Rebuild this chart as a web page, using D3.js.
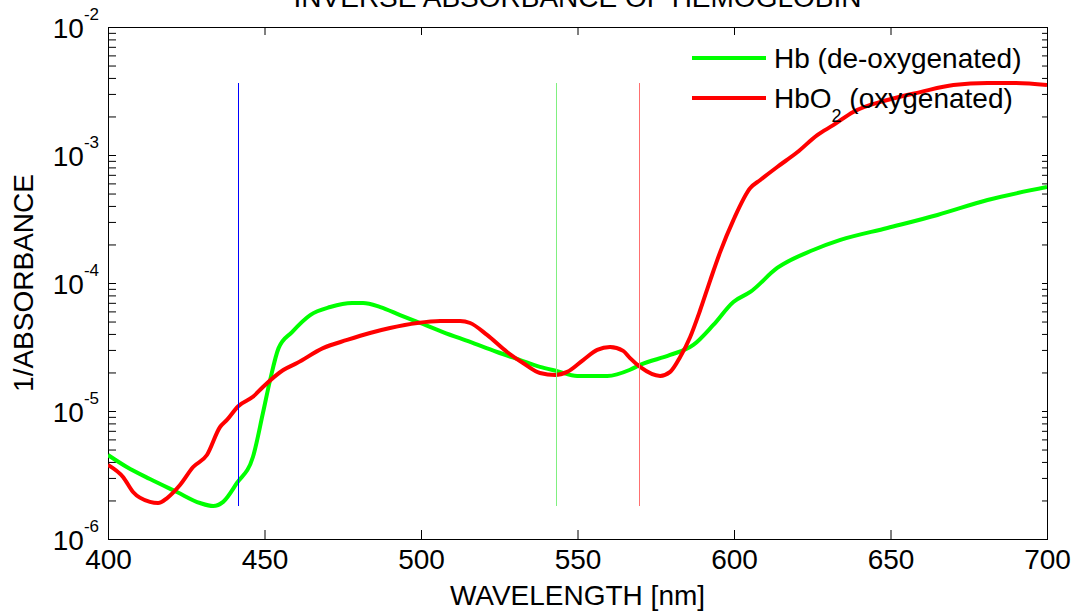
<!DOCTYPE html>
<html>
<head>
<meta charset="utf-8">
<script src="https://cdn.jsdelivr.net/npm/d3@7"></script>
<style>
  body { margin: 0; background: #fff; }
  svg { display: block; font-family: "Liberation Sans", Arial, sans-serif; }
  .axis path.domain { display: none; }
  .axis line { stroke: #000; stroke-width: 1; }
  .axis text { font-size: 28px; fill: #000; font-family: "Liberation Sans", Arial, sans-serif; }
</style>
</head>
<body>
<svg id="chart" width="1075" height="613"></svg>
<script>
// Hb (de-oxygenated) curve
const hbWavelength = [400, 406, 413.4, 422, 429.4, 433.6, 436.8, 441.2, 446.3, 449.5, 451.8, 454.5,
  458.8, 464.6, 471, 478, 481.5, 487, 493.3, 499.7, 507, 515.7, 524.3, 531.7, 538, 543.5, 549.9,
  559.5, 566.8, 570, 579.6, 587, 593.4, 599.8, 605.2, 613.8, 625.3, 634, 649, 665, 681, 700];
const hbValues = [4.53e-6, 3.65e-6, 2.94e-6, 2.33e-6, 1.91e-6, 1.81e-6, 1.95e-6, 2.74e-6, 4.37e-6,
  9.64e-6, 1.75e-5, 3.10e-5, 4.14e-5, 5.62e-5, 6.49e-5, 6.98e-5, 6.98e-5, 6.49e-5, 5.62e-5, 4.87e-5,
  4.14e-5, 3.46e-5, 2.89e-5, 2.50e-5, 2.21e-5, 2.05e-5, 1.88e-5, 1.88e-5, 2.10e-5, 2.29e-5, 2.74e-5,
  3.28e-5, 4.70e-5, 7.11e-5, 8.51e-5, 1.31e-4, 1.81e-4, 2.17e-4, 2.69e-4, 3.40e-4, 4.45e-4, 5.62e-4];

// HbO2 (oxygenated) curve
const hbo2Wavelength = [400, 404.8, 408, 413.4, 416, 418.9, 423, 427.2, 431.6, 435.8, 438, 441.6,
  446.3, 449.5, 456, 460.4, 468.7, 476.4, 483.7, 490.1, 498.8, 506.1, 512.5, 515.7, 521.1, 527.5,
  532.6, 538, 542.9, 546.7, 551.8, 556.3, 560.4, 564.6, 566.8, 570, 576.4, 579.6, 582.8, 586, 589.2,
  592.4, 595.6, 599.8, 605.2, 608.4, 613.8, 620.2, 626.6, 631.7, 638.1, 649, 659.5, 670.1, 681,
  689.3, 700];
const hbo2Values = [3.79e-6, 3.05e-6, 2.33e-6, 1.95e-6, 1.91e-6, 2.09e-6, 2.64e-6, 3.65e-6, 4.53e-6,
  7.50e-6, 8.51e-6, 1.09e-5, 1.29e-5, 1.54e-5, 2.09e-5, 2.37e-5, 3.10e-5, 3.59e-5, 4.07e-5, 4.45e-5,
  4.87e-5, 5.05e-5, 5.05e-5, 4.87e-5, 3.93e-5, 2.89e-5, 2.37e-5, 1.98e-5, 1.91e-5, 2.02e-5, 2.50e-5,
  3.00e-5, 3.16e-5, 2.95e-5, 2.59e-5, 2.21e-5, 1.88e-5, 2.02e-5, 2.64e-5, 3.79e-5, 6.15e-5, 1.05e-4,
  1.75e-4, 3.10e-4, 5.52e-4, 6.38e-4, 8.06e-4, 1.05e-3, 1.43e-3, 1.71e-3, 2.17e-3, 2.69e-3, 3.10e-3,
  3.52e-3, 3.65e-3, 3.65e-3, 3.52e-3];

// marker lines (nm) and their colours
const markerWavelengths = [441.6, 543.2, 569.7];
const markerColors = ['#0000ff', '#80f080', '#ff7070'];

const xTicks = [400, 450, 500, 550, 600, 650, 700];
const yDecades = [-6, -5, -4, -3, -2];

const seriesNames = ['Hb (de-oxygenated)', 'HbO2 (oxygenated)'];
const seriesColors = ['#00ff00', '#ff0000'];

const PLOT = { left: 108, right: 1047, top: 27, bottom: 539 };

const svg = d3.select('#chart');

const x = d3.scaleLinear().domain([400, 700]).range([PLOT.left, PLOT.right]);
const y = d3.scaleLog().domain([1e-6, 1e-2]).range([PLOT.bottom, PLOT.top]);

// tick values for the log axis: decades and the 2..9 minors
const majorY = yDecades.map(e => Math.pow(10, e));
const minorY = [];
for (const e of yDecades.slice(0, -1)) {
  for (let k = 2; k <= 9; k++) minorY.push(k * Math.pow(10, e));
}
const allY = majorY.concat(minorY);

// clip for the curves
svg.append('defs').append('clipPath').attr('id', 'plotclip')
  .append('rect')
  .attr('x', PLOT.left).attr('y', PLOT.top)
  .attr('width', PLOT.right - PLOT.left).attr('height', PLOT.bottom - PLOT.top);

// Axes (ticks point inward)
svg.append('g')
  .attr('class', 'axis')
  .attr('transform', `translate(0,${PLOT.bottom})`)
  .call(d3.axisBottom(x).tickValues(xTicks).tickSize(-9).tickPadding(10).tickFormat(d3.format('d')));

svg.append('g')
  .attr('class', 'axis')
  .attr('transform', `translate(0,${PLOT.top})`)
  .call(d3.axisTop(x).tickValues(xTicks).tickSize(-8).tickFormat(''));

svg.append('g')
  .attr('class', 'axis')
  .attr('transform', `translate(${PLOT.left},0)`)
  .call(d3.axisLeft(y).tickValues(allY).tickSize(-8).tickFormat(''));

svg.append('g')
  .attr('class', 'axis')
  .attr('transform', `translate(${PLOT.right},0)`)
  .call(d3.axisRight(y).tickValues(allY).tickSize(-5).tickFormat(''));

// box
svg.append('rect')
  .attr('x', PLOT.left + 0.5).attr('y', PLOT.top + 0.5)
  .attr('width', PLOT.right - PLOT.left).attr('height', PLOT.bottom - PLOT.top)
  .attr('fill', 'none').attr('stroke', '#000').attr('stroke-width', 1);

// y tick labels with exponents
const yLab = svg.append('g');
yDecades.forEach(e => {
  const t = yLab.append('text')
    .attr('x', 99)
    .attr('y', y(Math.pow(10, e)) + 10.5)
    .attr('text-anchor', 'end')
    .attr('font-size', 28);
  t.append('tspan').text('10');
  t.append('tspan').attr('dy', -18).attr('font-size', 17).text(String(e));
});

// curves
const line = d3.line()
  .x(d => x(d[0]))
  .y(d => y(d[1]))
  .curve(d3.curveMonotoneX);

const series = [
  d3.zip(hbWavelength, hbValues),
  d3.zip(hbo2Wavelength, hbo2Values)
];

const plot = svg.append('g').attr('clip-path', 'url(#plotclip)');
series.forEach((s, i) => {
  plot.append('path')
    .datum(s)
    .attr('d', line)
    .attr('fill', 'none')
    .attr('stroke', seriesColors[i])
    .attr('stroke-width', 4)
    .attr('stroke-linejoin', 'round');
});

// vertical marker lines span the data range
const allVals = hbValues.concat(hbo2Values);
const vMin = d3.min(allVals), vMax = d3.max(allVals);
markerWavelengths.forEach((w, i) => {
  plot.append('line')
    .attr('x1', Math.round(x(w)) + 0.5).attr('x2', Math.round(x(w)) + 0.5)
    .attr('y1', y(vMax)).attr('y2', y(vMin))
    .attr('stroke', markerColors[i])
    .attr('stroke-width', 1);
});

// legend (no box)
const legend = svg.append('g');
const legendRows = [58, 98];
seriesNames.forEach((name, i) => {
  legend.append('line')
    .attr('x1', 692).attr('x2', 766)
    .attr('y1', legendRows[i]).attr('y2', legendRows[i])
    .attr('stroke', seriesColors[i]).attr('stroke-width', 4);
  const t = legend.append('text')
    .attr('x', 774).attr('y', legendRows[i] + 10)
    .attr('font-size', 28);
  if (name.startsWith('HbO2')) {
    t.append('tspan').text('HbO');
    t.append('tspan').attr('dy', 14).attr('font-size', 18).text('2');
    t.append('tspan').attr('dy', -14).text(name.slice(4));
  } else {
    t.text(name);
  }
});

// title and axis labels
svg.append('text')
  .attr('x', (PLOT.left + PLOT.right) / 2).attr('y', 6.5)
  .attr('text-anchor', 'middle').attr('font-size', 28)
  .text('INVERSE ABSORBANCE OF HEMOGLOBIN');

svg.append('text')
  .attr('x', (PLOT.left + PLOT.right) / 2).attr('y', 605)
  .attr('text-anchor', 'middle').attr('font-size', 28)
  .text('WAVELENGTH [nm]');

svg.append('text')
  .attr('transform', `translate(33,${(PLOT.top + PLOT.bottom) / 2}) rotate(-90)`)
  .attr('text-anchor', 'middle').attr('font-size', 28)
  .text('1/ABSORBANCE');
</script>
</body>
</html>
